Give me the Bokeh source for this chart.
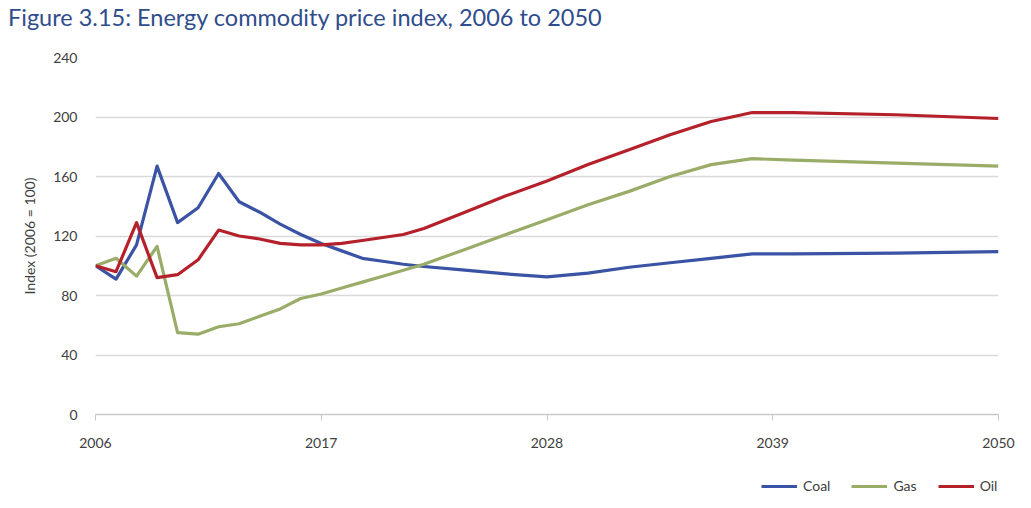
from bokeh.plotting import figure
from bokeh.layouts import column
from bokeh.models import Legend, LegendItem, FixedTicker, Range1d, Div
from bokeh.embed import file_html
from bokeh.resources import INLINE

# ---- data ----
years = [2006, 2007, 2008, 2009, 2010, 2011, 2012, 2013, 2014, 2015, 2016, 2017,
         2018, 2019, 2020, 2021, 2022, 2024, 2026, 2028, 2030, 2032, 2034, 2036,
         2038, 2040, 2045, 2050]
coal = [100, 91, 114, 167, 129, 139, 162, 143, 136, 128, 121, 115,
        110, 105, 103, 101, 99.5, 97, 94.5, 92.5, 95, 99, 102, 105,
        108, 108, 108.5, 109.5]
gas = [100, 105, 93, 113, 55, 54, 59, 61, 66, 71, 78, 81,
       85, 89, 93, 97, 101, 111, 121, 131, 141, 150, 160, 168,
       172, 171, 169, 167]
oil = [100, 96, 129, 92, 94, 104, 124, 120, 118, 115, 114, 114,
       115, 117, 119, 121, 125, 136, 147, 157, 168, 178, 188, 197,
       203, 203, 201.5, 199]
x_ticks = [2006, 2017, 2028, 2039, 2050]
y_ticks = [0, 40, 80, 120, 160, 200, 240]

series_names = ["Coal", "Gas", "Oil"]
series_values = [coal, gas, oil]
series_colors = ["#3a53a4", "#9aad68", "#b5212b"]

title_text = "Figure 3.15: Energy commodity price index, 2006 to 2050"

FONT = "Lato"
TXT = "#404040"

TITLE_H = 36
LEGEND_H = 38
MAIN_H = 508 - TITLE_H - LEGEND_H

title = Div(text=title_text, width=1031, height=TITLE_H, margin=0,
            styles={"font-family": "Lato", "font-size": "23.5px",
                    "color": "#2f4d8c", "line-height": f"{TITLE_H - 2}px",
                    "padding-left": "8px", "white-space": "nowrap"})

p = figure(width=1031, height=MAIN_H, output_backend="svg", toolbar_location=None,
           x_range=Range1d(2006, 2050), y_range=Range1d(0, 240),
           min_border_left=95, min_border_right=33, min_border_top=57 - TITLE_H,
           min_border_bottom=MAIN_H - (414 - TITLE_H))
p.background_fill_color = "white"
p.border_fill_color = "white"
p.outline_line_color = None

for name, vals, col in zip(series_names, series_values, series_colors):
    p.line(years, vals, line_color=col, line_width=3.2, line_join="round")

# grid
p.xgrid.grid_line_color = None
p.ygrid.ticker = FixedTicker(ticks=y_ticks[1:])
p.ygrid.grid_line_color = "#d9d9d9"
p.ygrid.grid_line_width = 1.6

# x axis
p.xaxis.ticker = FixedTicker(ticks=x_ticks)
p.xaxis.axis_line_color = "#c8c8c8"
p.xaxis.axis_line_width = 1.6
p.xaxis.major_tick_line_color = "#c8c8c8"
p.xaxis.major_tick_out = 6
p.xaxis.major_tick_in = 0
p.xaxis.minor_tick_line_color = None
p.xaxis.major_label_text_font = FONT
p.xaxis.major_label_text_font_size = "14px"
p.xaxis.major_label_text_color = TXT
p.xaxis.major_label_standoff = 17

# y axis
p.yaxis.ticker = FixedTicker(ticks=y_ticks)
p.yaxis.axis_line_color = None
p.yaxis.major_tick_line_color = None
p.yaxis.minor_tick_line_color = None
p.yaxis.major_label_text_font = FONT
p.yaxis.major_label_text_font_size = "14px"
p.yaxis.major_label_text_color = TXT
p.yaxis.major_label_standoff = 12
p.yaxis.axis_label = "Index (2006 = 100)"
p.yaxis.axis_label_text_font = FONT
p.yaxis.axis_label_text_font_size = "14px"
p.yaxis.axis_label_text_font_style = "normal"
p.yaxis.axis_label_text_color = TXT
p.yaxis.axis_label_standoff = 12

# legend strip below the chart (its ranges keep the series themselves out of view)
lg = figure(width=1031, height=LEGEND_H, output_backend="svg", toolbar_location=None,
            x_range=Range1d(0, 1), y_range=Range1d(0, 1),
            x_axis_type=None, y_axis_type=None, min_border=0)
lg.outline_line_color = None
lg.grid.visible = False
lg.background_fill_color = "white"
lg.border_fill_color = "white"
items = []
for name, vals, col in zip(series_names, series_values, series_colors):
    r = lg.line(years, vals, line_color=col, line_width=3.2)
    items.append(LegendItem(label=name, renderers=[r]))
legend = Legend(items=items, orientation="horizontal", location=(666, 14),
                glyph_width=36, glyph_height=12, label_text_font=FONT,
                label_text_font_size="14px", label_text_color=TXT,
                label_standoff=6, spacing=21, padding=0, margin=0,
                border_line_color=None, background_fill_alpha=0)
lg.add_layout(legend, "center")

layout = column(title, p, lg, spacing=0)
open("out.html", "w").write(file_html(layout, INLINE))
